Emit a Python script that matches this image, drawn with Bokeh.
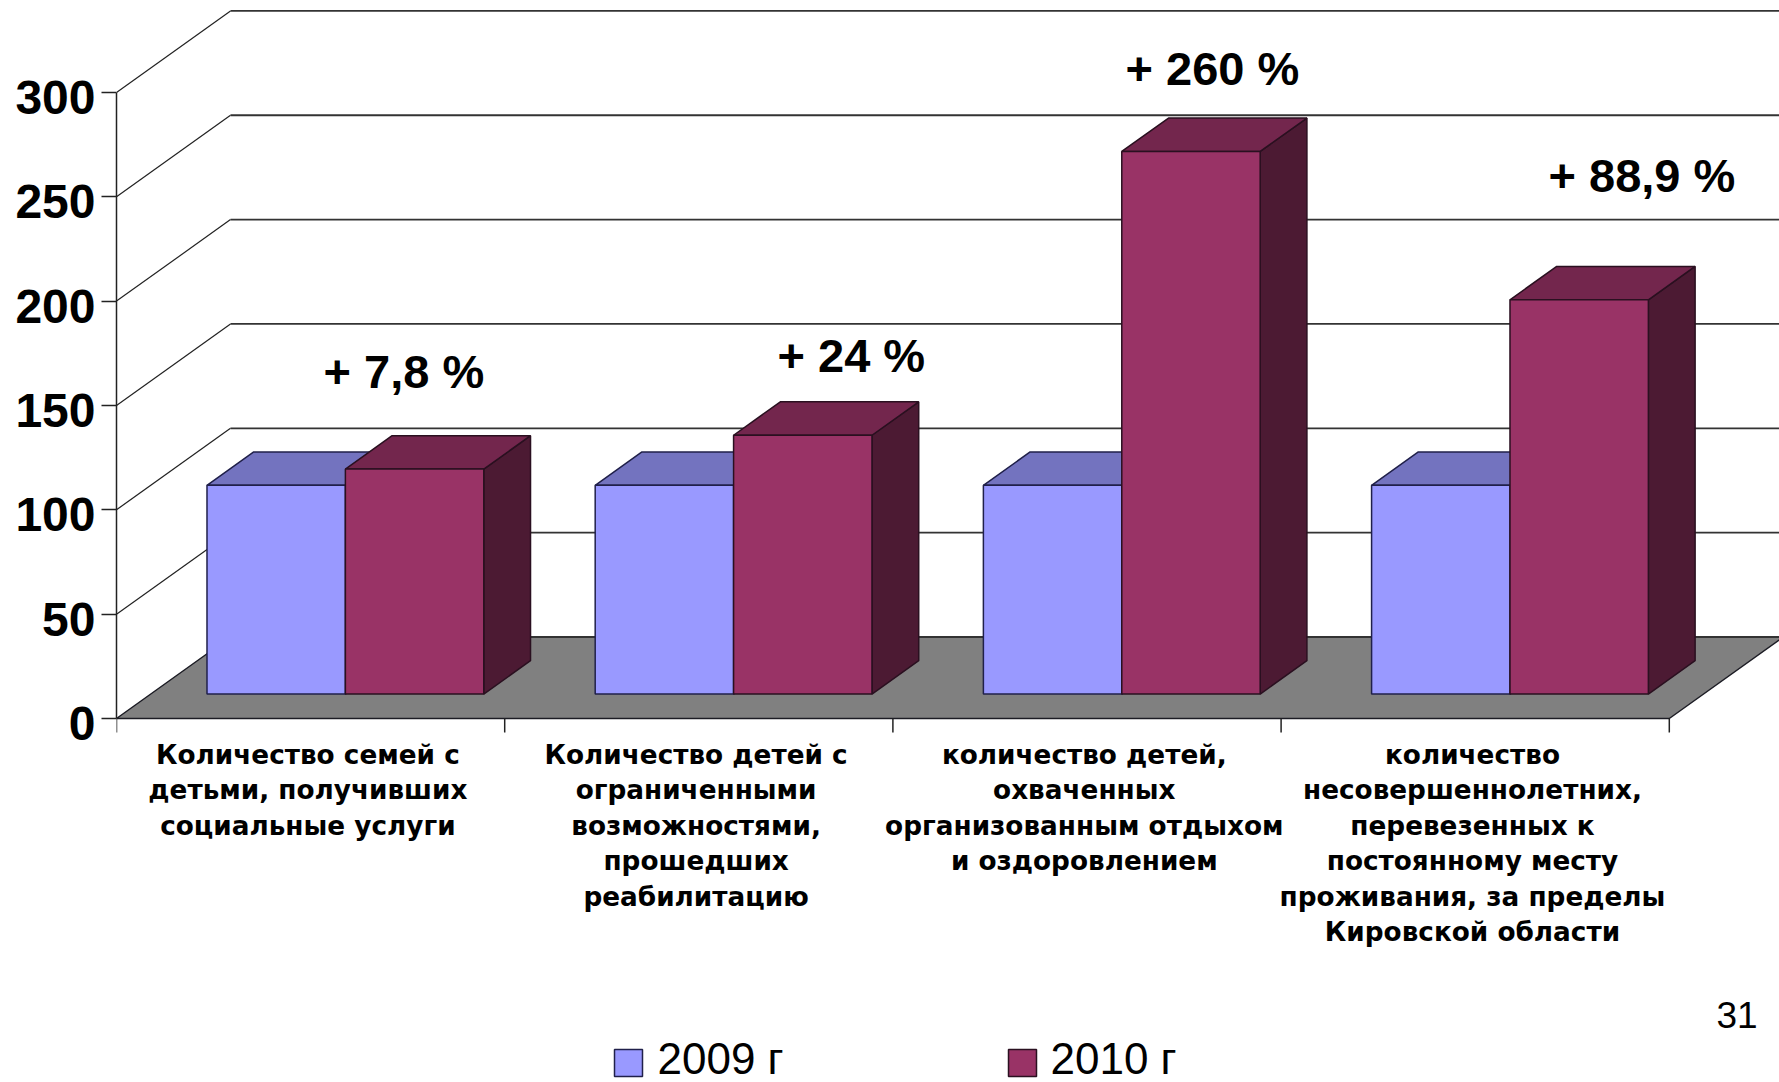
from bokeh.plotting import figure
from bokeh.models import FixedTicker, LinearAxis, Range1d
from bokeh.core.properties import value
from bokeh.embed import file_html
from bokeh.resources import INLINE

categories = [
    "Количество семей с\nдетьми, получивших\nсоциальные услуги",
    "Количество детей с\nограниченными\nвозможностями,\nпрошедших\nреабилитацию",
    "количество детей,\nохваченных\nорганизованным отдыхом\nи оздоровлением",
    "количество\nнесовершеннолетних,\nперевезенных к\nпостоянному месту\nпроживания, за пределы\nКировской области",
]
values_2009 = [100, 100, 100, 100]
values_2010 = [107.8, 124, 260, 188.9]
series_names = ["2009 г", "2010 г"]
y_ticks = [0, 50, 100, 150, 200, 250, 300]
growth_labels = ["+ 7,8 %", "+ 24 %", "+ 260 %", "+ 88,9 %"]
page_number = "31"

# scale of the picture
PX_X = 388.2      # pixels per category slot
PX_Y = 2.087      # pixels per value unit
FRAME_LEFT, FRAME_BOTTOM = 116, 718
W, H = 1779, 1082
DX, DY = 114 / PX_X, 81.5 / PX_Y   # full depth of the 3-D box in data units
BAR_X0, BAR_W = 0.145, 0.3565
D_FRONT, D_BACK = 0.30, 0.71
LABEL_SHIFT = 5 / PX_Y

def ux(px): return (px - FRAME_LEFT) / PX_X
def uy(py): return (FRAME_BOTTOM - py) / PX_Y

y0_range, y1_range = uy(H), uy(0)
p = figure(width=W, height=H, output_backend="svg", toolbar_location=None,
           x_range=Range1d(0, ux(W)), y_range=Range1d(y0_range, y1_range),
           x_axis_location=None, y_axis_location=None,
           min_border_left=FRAME_LEFT, min_border_right=0,
           min_border_top=0, min_border_bottom=0)
p.extra_y_ranges = {"labels": Range1d(y0_range + LABEL_SHIFT, y1_range + LABEL_SHIFT)}
p.grid.visible = False
p.outline_line_color = None
p.background_fill_color = "white"

EDGE = "#1c1c24"
AXIS = "#222222"
n_cat = len(categories)

# floor
p.patch([0, n_cat, n_cat + DX, DX], [0, 0, DY, DY], fill_color="#808080",
        line_color=EDGE, line_width=1.5)
# walls' gridlines
for v in y_ticks[1:]:
    p.line([0, DX], [v, v + DY], line_color=AXIS, line_width=1.2)
for v in y_ticks:
    p.line([DX, n_cat + DX + 1], [v + DY, v + DY], line_color="#333333", line_width=1.8)

def faces(vals, slot_offset):
    xs0 = [i + BAR_X0 + slot_offset * BAR_W for i in range(len(vals))]
    fl, fb, fr, ft = [], [], [], []
    side_x, side_y, top_x, top_y = [], [], [], []
    for x0, v in zip(xs0, vals):
        x1 = x0 + BAR_W
        f_sx, f_sy = D_FRONT * DX, D_FRONT * DY
        b_sx, b_sy = D_BACK * DX, D_BACK * DY
        fl.append(x0 + f_sx); fr.append(x1 + f_sx); fb.append(f_sy); ft.append(v + f_sy)
        side_x.append([x1 + f_sx, x1 + b_sx, x1 + b_sx, x1 + f_sx])
        side_y.append([f_sy, b_sy, v + b_sy, v + f_sy])
        top_x.append([x0 + f_sx, x1 + f_sx, x1 + b_sx, x0 + b_sx])
        top_y.append([v + f_sy, v + f_sy, v + b_sy, v + b_sy])
    return fl, fb, fr, ft, side_x, side_y, top_x, top_y

SERIES_STYLE = [
    (values_2009, "#9999FF", "#7373BF", "#4D4D80", "#20204a"),
    (values_2010, "#993366", "#73264D", "#4C1A33", "#2a1020"),
]
for off, (vals, c_front, c_top, c_side, line) in enumerate(SERIES_STYLE):
    fl, fb, fr, ft, sx, sy, tx, ty = faces(vals, off)
    p.patches(sx, sy, fill_color=c_side, line_color=line, line_width=1.5)
    p.patches(tx, ty, fill_color=c_top, line_color=line, line_width=1.5)
    p.quad(left=fl, right=fr, bottom=fb, top=ft, fill_color=c_front,
           line_color=line, line_width=1.5)

# value axis: line + ticks next to the frame, labels on a second axis just outside them
yax = LinearAxis(ticker=FixedTicker(ticks=[], minor_ticks=y_ticks), bounds=(0, 300))
yax.axis_line_color = AXIS; yax.axis_line_width = 1.5
yax.major_tick_line_color = None
yax.minor_tick_out = 15; yax.minor_tick_in = 0
yax.minor_tick_line_color = AXIS; yax.minor_tick_line_width = 1.5
yax.major_label_text_font_size = "1px"
p.add_layout(yax, "left")

ylab = LinearAxis(ticker=FixedTicker(ticks=y_ticks), y_range_name="labels")
ylab.axis_line_color = None
ylab.major_tick_line_color = None; ylab.minor_tick_line_color = None
ylab.major_tick_out = 0; ylab.major_tick_in = 0
ylab.major_label_standoff = 6
ylab.major_label_text_font = "Liberation Sans"
ylab.major_label_text_font_style = "bold"
ylab.major_label_text_font_size = "48px"
ylab.major_label_text_color = "black"
p.add_layout(ylab, "left")

# category axis
p.segment(x0=list(range(n_cat + 1)), y0=[0] * (n_cat + 1), x1=list(range(n_cat + 1)),
          y1=[uy(FRAME_BOTTOM + 14)] * (n_cat + 1), line_color=AXIS, line_width=1.5)
lx, ly, lt = [], [], []
for i, cat in enumerate(categories):
    for j, part in enumerate(cat.split("\n")):
        lx.append(i + 0.493); ly.append(uy(754.5 + j * 35.4)); lt.append(part)
p.text(lx, ly, text=lt, text_font=value("DejaVu Sans"), text_font_style="bold",
       text_font_size="26.3px", text_color="black", text_align="center", text_baseline="middle")

# growth annotations: left edge px, baseline px
p.text([ux(v) for v in [323, 777, 1125, 1548]], [uy(v) for v in [371, 355, 68, 175]],
       text=growth_labels, text_font=value("Liberation Sans"), text_font_style="bold",
       text_font_size="47px", text_color="black", text_align="left", text_baseline="alphabetic")

p.text([ux(1716)], [uy(1014)], text=[page_number], text_font=value("Liberation Sans"),
       text_font_size="37px", text_color="black", text_align="left", text_baseline="alphabetic")

# legend
for name, swatch_px, text_px, style in zip(series_names, [614, 1008], [657, 1050], SERIES_STYLE):
    p.quad(left=[ux(swatch_px)], right=[ux(swatch_px + 28)], bottom=[uy(1076)], top=[uy(1049)],
           fill_color=style[1], line_color=style[4], line_width=1.5)
    p.text([ux(text_px)], [uy(1058)], text=[name], text_font=value("Liberation Sans"),
           text_font_size="44px", text_color="black", text_align="left", text_baseline="middle")

open("out.html", "w").write(file_html(p, INLINE))
